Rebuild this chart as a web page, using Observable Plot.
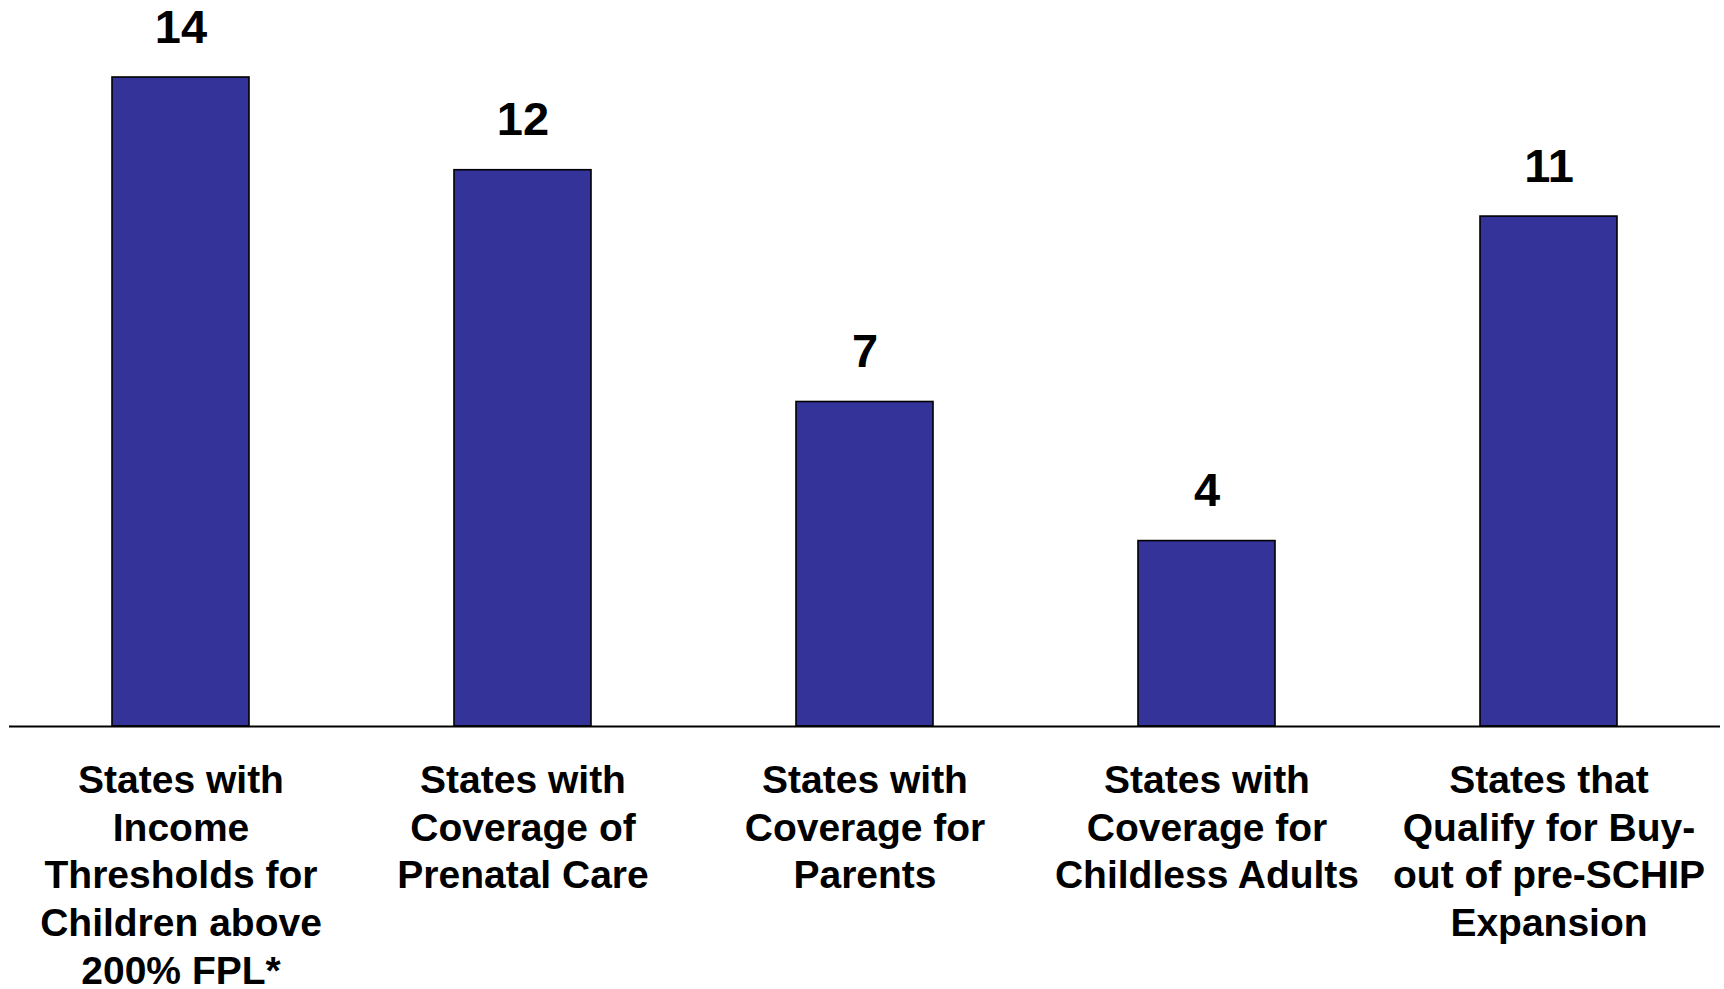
<!DOCTYPE html>
<html>
<head>
<meta charset="utf-8">
<script src="https://cdn.jsdelivr.net/npm/d3@7"></script>
<script src="https://cdn.jsdelivr.net/npm/@observablehq/plot@0.6"></script>
<style>
  html, body { margin: 0; padding: 0; background: #fff; }
  #chart svg { display: block; }
</style>
</head>
<body>
<div id="chart"></div>
<script>
const categories = [
  "States with\nIncome\nThresholds for\nChildren above\n200% FPL*",
  "States with\nCoverage of\nPrenatal Care",
  "States with\nCoverage for\nParents",
  "States with\nCoverage for\nChildless Adults",
  "States that\nQualify for Buy-\nout of pre-SCHIP\nExpansion"
];
const values = [14, 12, 7, 4, 11];

const data = categories.map((c, i) => ({category: c, value: values[i]}));

const chart = Plot.plot({
  width: 1724,
  height: 989,
  marginTop: 77,
  marginBottom: 263,
  marginLeft: 9,
  marginRight: 4,
  style: {fontFamily: "'Liberation Sans', Arial, sans-serif", background: "#fff"},
  x: {domain: categories, paddingInner: 0.6, paddingOuter: 0.3, align: 0.5},
  y: {domain: [0, 14], axis: null},
  marks: [
    Plot.barY(data, {x: "category", y: "value", fill: "#333399", stroke: "#000", strokeWidth: 1.6}),
    Plot.ruleY([0], {stroke: "#000", strokeWidth: 2}),
    Plot.text(data, {x: "category", y: "value", text: d => String(d.value), lineAnchor: "bottom", dy: -35,
      fontSize: 47, fontWeight: "bold", fill: "#000"}),
    Plot.axisX({tickSize: 0, tickPadding: 33, fontSize: 39, fontWeight: "bold", lineHeight: 1.22,
      fill: "#000", label: null, textOverflow: null, lineWidth: Infinity})
  ]
});
document.getElementById("chart").appendChild(chart);
</script>
</body>
</html>
